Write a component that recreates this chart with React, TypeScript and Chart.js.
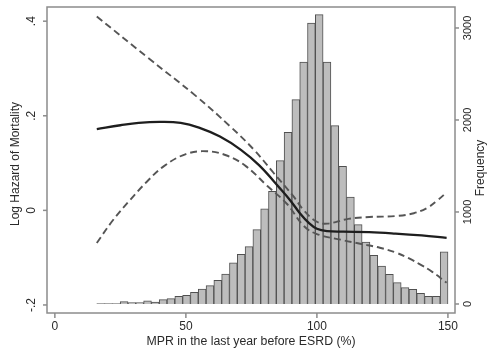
import React, { useEffect, useRef } from "react";
import { Chart, registerables } from "chart.js";
Chart.register(...registerables);

// Histogram (right axis: Frequency)
const binCenters = [
  17.49, 20.47, 23.45, 26.42, 29.4, 32.38, 35.36, 38.34, 41.32, 44.29,
  47.27, 50.25, 53.23, 56.21, 59.19, 62.16, 65.14, 68.12, 71.1, 74.08,
  77.06, 80.03, 83.01, 85.99, 88.97, 91.95, 94.93, 97.9, 100.88, 103.86,
  106.84, 109.82, 112.8, 115.77, 118.75, 121.73, 124.71, 127.69, 130.67, 133.64,
  136.62, 139.6, 142.58, 145.56, 148.54,
];
const frequency = [
  5, 5, 5, 25, 15, 15, 35, 20, 47, 58,
  83, 94, 128, 163, 199, 257, 326, 446, 540, 623,
  808, 1033, 1224, 1558, 1865, 2221, 2630, 3054, 3145, 2630,
  1938, 1496, 1163, 862, 674, 530, 412, 322, 232, 177,
  160, 116, 83, 83, 568,
];

// Fitted log hazard (left axis)
const fitX = [16, 25, 32, 40, 48, 55, 63, 71, 78, 86, 90, 93.5, 97, 100, 104, 110, 120, 130, 140, 149.5];
const fitY = [0.172, 0.18, 0.185, 0.187, 0.185, 0.175, 0.156, 0.128, 0.095, 0.046, 0.02, -0.006, -0.027, -0.039, -0.044, -0.045, -0.046, -0.049, -0.053, -0.058];

// Upper confidence band
const upperX = [16, 35, 54, 67, 76, 83.5, 91, 95, 100, 104, 112, 120, 130, 137, 142, 146, 149.5];
const upperY = [0.41, 0.325, 0.241, 0.177, 0.128, 0.079, 0.03, 0.0, -0.024, -0.028, -0.018, -0.014, -0.012, -0.006, 0.005, 0.021, 0.038];

// Lower confidence band
const lowerX = [16, 22, 28.7, 35, 41.5, 50, 58, 65.6, 73, 81, 88.5, 95, 100, 109, 117, 124, 130, 135, 139, 144, 149.5];
const lowerY = [-0.069, -0.022, 0.022, 0.06, 0.093, 0.119, 0.125, 0.116, 0.093, 0.052, 0.014, -0.033, -0.05, -0.062, -0.071, -0.079, -0.089, -0.101, -0.113, -0.13, -0.153];

const xTicks = [0, 50, 100, 150];
const xTickLabels = ["0", "50", "100", "150"];
const hazardTicks = [-0.2, 0, 0.2, 0.4];
const hazardTickLabels = ["-.2", "0", ".2", ".4"];
const freqTicks = [0, 1000, 2000, 3000];
const freqTickLabels = ["0", "1000", "2000", "3000"];

const xTitle = "MPR in the last year before ESRD (%)";
const leftTitle = "Log Hazard of Mortality";
const rightTitle = "Frequency";

const FONT = '"Liberation Sans", Arial, Helvetica, sans-serif';
const TEXT = "#2a2a2a";
const FRAME = "#8c8c8c";

const zip = (xs: number[], ys: number[]) => xs.map((x, i) => ({ x, y: ys[i] }));

const axesPlugin = {
  id: "stataAxes",
  afterDraw(chart: any) {
    const ctx = chart.ctx as CanvasRenderingContext2D;
    const { left, top, right, bottom } = chart.chartArea;
    const sx = chart.scales.x;
    const sy = chart.scales.y;
    const sy1 = chart.scales.y1;
    ctx.save();
    ctx.strokeStyle = FRAME;
    ctx.lineWidth = 1.5;
    ctx.strokeRect(left, top, right - left, bottom - top);

    ctx.fillStyle = TEXT;
    ctx.font = `12px ${FONT}`;
    ctx.textAlign = "center";
    ctx.textBaseline = "middle";
    xTicks.forEach((v, i) => {
      const px = sx.getPixelForValue(v);
      ctx.beginPath();
      ctx.moveTo(px, bottom);
      ctx.lineTo(px, bottom + 5);
      ctx.stroke();
      ctx.fillText(xTickLabels[i], px, bottom + 14);
    });
    ctx.font = `12.3px ${FONT}`;
    ctx.fillText(xTitle, (left + right) / 2, bottom + 29);
    ctx.font = `12px ${FONT}`;

    hazardTicks.forEach((v, i) => {
      const py = sy.getPixelForValue(v);
      ctx.beginPath();
      ctx.moveTo(left, py);
      ctx.lineTo(left - 4, py);
      ctx.stroke();
      ctx.save();
      ctx.translate(left - 15, py);
      ctx.rotate(-Math.PI / 2);
      ctx.fillText(hazardTickLabels[i], 0, 0);
      ctx.restore();
    });
    ctx.save();
    ctx.translate(16, (top + bottom) / 2 + 4);
    ctx.rotate(-Math.PI / 2);
    ctx.fillText(leftTitle, 0, 0);
    ctx.restore();

    ctx.font = `11px ${FONT}`;
    freqTicks.forEach((v, i) => {
      const py = sy1.getPixelForValue(v);
      ctx.beginPath();
      ctx.moveTo(right, py);
      ctx.lineTo(right + 4, py);
      ctx.stroke();
      ctx.save();
      ctx.translate(right + 13, py);
      ctx.rotate(-Math.PI / 2);
      ctx.fillText(freqTickLabels[i], 0, 0);
      ctx.restore();
    });
    ctx.font = `12px ${FONT}`;
    ctx.save();
    ctx.translate(right + 26, (top + bottom) / 2 + 8);
    ctx.rotate(-Math.PI / 2);
    ctx.fillText(rightTitle, 0, 0);
    ctx.restore();
    ctx.restore();
  },
};

export default function App() {
  const ref = useRef<HTMLCanvasElement>(null);
  useEffect(() => {
    document.body.style.margin = "0";
    const lineCommon = {
      type: "line" as const,
      yAxisID: "y",
      pointRadius: 0,
      fill: false,
      tension: 0.4,
      order: 0,
    };
    const chart = new Chart(ref.current as HTMLCanvasElement, {
      type: "bar",
      data: {
        datasets: [
          { ...lineCommon, data: zip(fitX, fitY), borderColor: "#1e1e1e", borderWidth: 2.3 },
          { ...lineCommon, data: zip(upperX, upperY), borderColor: "#555", borderWidth: 1.9, borderDash: [7, 4] },
          { ...lineCommon, data: zip(lowerX, lowerY), borderColor: "#555", borderWidth: 1.9, borderDash: [7, 4] },
          {
            type: "bar",
            yAxisID: "y1",
            data: zip(binCenters, frequency),
            backgroundColor: "#bdbdbd",
            borderColor: "#505050",
            borderWidth: 1,
            barPercentage: 1,
            categoryPercentage: 1,
            order: 10,
          } as any,
        ],
      },
      options: {
        animation: false,
        responsive: false,
        devicePixelRatio: 1,
        layout: { padding: { top: 7, left: 0, right: 0, bottom: 0 } },
        plugins: { legend: { display: false }, tooltip: { enabled: false } },
        scales: {
          x: {
            type: "linear",
            min: -3,
            max: 152.7,
            offset: false,
            grid: { display: false },
            border: { display: false },
            ticks: { display: false },
            afterFit: (s: any) => { s.height = 37; },
          },
          y: {
            type: "linear",
            position: "left",
            min: -0.217,
            max: 0.43,
            grid: { display: false },
            border: { display: false },
            ticks: { display: false },
            afterFit: (s: any) => { s.width = 47; },
          },
          y1: {
            type: "linear",
            position: "right",
            min: -98,
            max: 3228,
            grid: { display: false },
            border: { display: false },
            ticks: { display: false },
            afterFit: (s: any) => { s.width = 36; },
          },
        },
      } as any,
      plugins: [axesPlugin],
    });
    return () => chart.destroy();
  }, []);
  return <canvas ref={ref} width={491} height={350} style={{ display: "block" }} />;
}
